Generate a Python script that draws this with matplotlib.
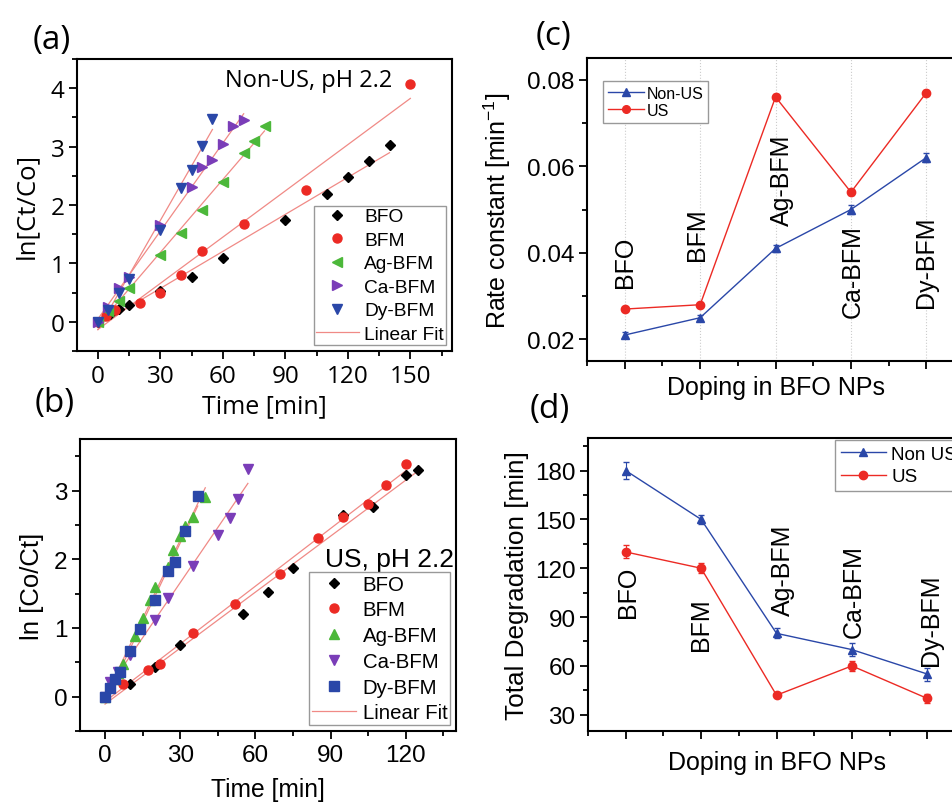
import matplotlib
matplotlib.use("Agg")
import matplotlib.pyplot as plt
from matplotlib.ticker import MultipleLocator
import numpy as np

plt.rcParams["font.family"] = ["Liberation Sans", "DejaVu Sans"]
plt.rcParams["mathtext.fontset"] = "custom"
plt.rcParams["mathtext.rm"] = "Liberation Sans"
plt.rcParams["mathtext.it"] = "Liberation Sans:italic"

# ---- (a) Non-US, pH 2.2 ----
a_bfo_t = [0, 6, 10, 15, 30, 45, 60, 90, 110, 120, 130, 140]
a_bfo_y = [0, 0.13, 0.22, 0.29, 0.53, 0.77, 1.10, 1.75, 2.19, 2.48, 2.76, 3.02]
a_bfm_t = [0, 4, 8, 20, 30, 40, 50, 70, 100, 150]
a_bfm_y = [0, 0.10, 0.20, 0.32, 0.49, 0.81, 1.21, 1.68, 2.25, 4.07]
a_ag_t = [0, 5, 10, 15, 30, 40, 50, 60, 70, 75, 80]
a_ag_y = [0, 0.19, 0.36, 0.58, 1.14, 1.52, 1.91, 2.40, 2.89, 3.09, 3.36]
a_ca_t = [0, 5, 10, 15, 30, 45, 50, 55, 60, 65, 70]
a_ca_y = [0, 0.26, 0.58, 0.77, 1.66, 2.31, 2.65, 2.77, 3.05, 3.35, 3.46]
a_dy_t = [0, 5, 10, 15, 30, 40, 45, 50, 55]
a_dy_y = [0, 0.20, 0.49, 0.73, 1.58, 2.29, 2.60, 3.01, 3.48]

# ---- (b) US, pH 2.2 ----
b_bfo_t = [0, 10, 20, 30, 55, 65, 75, 95, 107, 120, 125]
b_bfo_y = [0, 0.18, 0.43, 0.75, 1.20, 1.52, 1.88, 2.64, 2.76, 3.22, 3.30]
b_bfm_t = [0, 7, 17, 22, 35, 52, 70, 85, 95, 105, 112, 120]
b_bfm_y = [0, 0.18, 0.39, 0.47, 0.93, 1.35, 1.78, 2.31, 2.61, 2.81, 3.08, 3.39]
b_ag_t = [0, 2, 4, 5, 7, 12, 15, 18, 20, 25, 27, 30, 32, 35, 40]
b_ag_y = [0, 0.14, 0.26, 0.35, 0.47, 0.89, 1.14, 1.40, 1.60, 1.89, 2.13, 2.34, 2.48, 2.61, 2.91]
b_ca_t = [0, 2, 5, 10, 20, 25, 35, 45, 50, 53, 57]
b_ca_y = [0, 0.21, 0.36, 0.60, 1.11, 1.44, 1.90, 2.35, 2.60, 2.87, 3.32]
b_dy_t = [0, 2, 4, 6, 10, 14, 20, 25, 28, 32, 37]
b_dy_y = [0, 0.12, 0.25, 0.36, 0.67, 0.98, 1.40, 1.83, 1.96, 2.41, 2.92]

# ---- (c), (d) ----
dopants = ["BFO", "BFM", "Ag-BFM", "Ca-BFM", "Dy-BFM"]
k_nonus = [0.021, 0.025, 0.041, 0.050, 0.062]
k_nonus_err = [0.0006, 0.0006, 0.0008, 0.0010, 0.0010]
k_us = [0.027, 0.028, 0.076, 0.054, 0.077]
k_us_err = [0.0005, 0.0005, 0.0006, 0.0006, 0.0006]

deg_nonus = [180, 150, 80, 70, 55]
deg_nonus_err = [5, 3, 3, 4, 4]
deg_us = [130, 120, 42, 60, 40]
deg_us_err = [4, 3, 1, 3, 3]

# where the rotated dopant names sit (layout only)
c_label_dx = [0.0, -0.04, 0.09, 0.03, 0.0]
c_label_y = [0.032, 0.0383, 0.0464, 0.0252, 0.0275]
d_label_dx = [0.03, 0.0, 0.09, 0.03, 0.05]
d_label_y = [90, 69.5, 91, 77.7, 60.3]

RED = "#ec2a24"
GREEN = "#4cb83a"
PURPLE = "#7a3db8"
BLUE = "#2a47a8"
FIT = "#f08a86"
OS = ["Open Sans", "DejaVu Sans"]
TICK = 17.5

fig = plt.figure(figsize=(9.53, 8.03), dpi=100)


def style(ax, family=None):
    for s in ax.spines.values():
        s.set_linewidth(1.5)
    ax.tick_params(which="both", direction="out", width=1.3, top=False, right=False)
    ax.tick_params(which="major", length=6, labelsize=TICK, pad=3)
    ax.tick_params(which="minor", length=3.5)
    if family:
        for lab in ax.get_xticklabels() + ax.get_yticklabels():
            lab.set_family(family)


def kinetics(ax, series, fs, lspace):
    for t, y, mk, col, lab in series:
        ms = 5.5 if mk == "D" else 6.5
        ax.plot(t, y, mk, color=col, ms=ms, ls="none", label=lab, zorder=3)
    for t, y, mk, col, lab in series:
        t = np.array(t, float)
        p = np.polyfit(t, np.array(y, float), 1)
        tt = np.array([0, t.max()])
        ax.plot(tt, np.polyval(p, tt), color=FIT, lw=0.9, zorder=2,
                label="Linear Fit" if lab == series[-1][4] else None)
    ax.legend(loc="lower right", fontsize=fs, frameon=True, fancybox=False,
              edgecolor="#999999", framealpha=1, handlelength=2.2,
              borderaxespad=0.3, labelspacing=lspace, handletextpad=0.3,
              borderpad=0.12)


# (a)
ax_a = fig.add_axes([0.0808, 0.5616, 0.3935, 0.3636])
kinetics(ax_a, [
    (a_bfo_t, a_bfo_y, "D", "black", "BFO"),
    (a_bfm_t, a_bfm_y, "o", RED, "BFM"),
    (a_ag_t, a_ag_y, "<", GREEN, "Ag-BFM"),
    (a_ca_t, a_ca_y, ">", PURPLE, "Ca-BFM"),
    (a_dy_t, a_dy_y, "v", BLUE, "Dy-BFM"),
], 13.8, 0.32)
ax_a.set_xlim(-10, 170)
ax_a.set_ylim(-0.5, 4.5)
ax_a.xaxis.set_major_locator(MultipleLocator(30))
ax_a.xaxis.set_minor_locator(MultipleLocator(15))
ax_a.yaxis.set_major_locator(MultipleLocator(1))
ax_a.yaxis.set_minor_locator(MultipleLocator(0.5))
ax_a.set_xlabel("Time [min]", fontsize=18, family=OS, labelpad=4)
ax_a.set_ylabel("ln[Ct/Co]", fontsize=18.5, family=OS, labelpad=8)
ax_a.text(0.84, 0.93, "Non-US, pH 2.2", transform=ax_a.transAxes, ha="right",
          va="center", fontsize=17, family=OS)
style(ax_a, OS)

# (b)
ax_b = fig.add_axes([0.0839, 0.0884, 0.3945, 0.3636])
kinetics(ax_b, [
    (b_bfo_t, b_bfo_y, "D", "black", "BFO"),
    (b_bfm_t, b_bfm_y, "o", RED, "BFM"),
    (b_ag_t, b_ag_y, "^", GREEN, "Ag-BFM"),
    (b_ca_t, b_ca_y, "v", PURPLE, "Ca-BFM"),
    (b_dy_t, b_dy_y, "s", BLUE, "Dy-BFM"),
], 14.7, 0.33)
ax_b.set_xlim(-10, 140)
ax_b.set_ylim(-0.5, 3.75)
ax_b.xaxis.set_major_locator(MultipleLocator(30))
ax_b.xaxis.set_minor_locator(MultipleLocator(15))
ax_b.yaxis.set_major_locator(MultipleLocator(1))
ax_b.yaxis.set_minor_locator(MultipleLocator(0.5))
ax_b.set_xlabel("Time [min]", fontsize=17.7, labelpad=8)
ax_b.set_ylabel("ln [Co/Ct]", fontsize=18.5, labelpad=7)
ax_b.text(0.995, 0.59, "US, pH 2.2", transform=ax_b.transAxes, ha="right",
          va="center", fontsize=19)
style(ax_b)

# (c)
x = np.arange(len(dopants))
ax_c = fig.add_axes([0.616, 0.5492, 0.3956, 0.3773])
for xi in x:
    ax_c.axvline(xi, color="#cccccc", lw=0.8, ls=":", zorder=0)
ax_c.errorbar(x, k_nonus, yerr=k_nonus_err, color=BLUE, marker="^", ms=6,
              lw=1, capsize=2, elinewidth=0.8)
ax_c.errorbar(x, k_us, yerr=k_us_err, color=RED, marker="o", ms=6,
              lw=1, capsize=2, elinewidth=0.8)
h1, = ax_c.plot([], [], color=BLUE, marker="^", ms=5.5, lw=1, label="Non-US")
h2, = ax_c.plot([], [], color=RED, marker="o", ms=5.5, lw=1, label="US")
for xi, dx, yl, name in zip(x, c_label_dx, c_label_y, dopants):
    ax_c.text(xi + dx, yl, name, rotation=90, ha="center", va="bottom", fontsize=18)
ax_c.set_xlim(-0.5, 4.5)
ax_c.set_ylim(0.015, 0.085)
ax_c.set_xticks(x)
ax_c.set_xticklabels([])
ax_c.xaxis.set_minor_locator(MultipleLocator(0.5))
ax_c.yaxis.set_minor_locator(MultipleLocator(0.01))
ax_c.set_yticks([0.02, 0.04, 0.06, 0.08])
ax_c.set_yticklabels(["0.02", "0.04", "0.06", "0.08"])
ax_c.set_xlabel("Doping in BFO NPs", fontsize=18, labelpad=1)
ax_c.set_ylabel("Rate constant [min$^{-1}$]", fontsize=18, labelpad=10)
ax_c.legend(handles=[h1, h2], loc="upper left", bbox_to_anchor=(0.043, 0.925),
            fontsize=11.5, frameon=True, fancybox=False, edgecolor="#999999",
            framealpha=1, handlelength=2.25, borderaxespad=0, labelspacing=0.15,
            handletextpad=0.15, borderpad=0.3)
style(ax_c)

# (d)
ax_d = fig.add_axes([0.617, 0.0884, 0.3956, 0.3649])
ax_d.errorbar(x, deg_nonus, yerr=deg_nonus_err, color=BLUE, marker="^", ms=6,
              lw=1, capsize=2, elinewidth=0.8)
ax_d.errorbar(x, deg_us, yerr=deg_us_err, color=RED, marker="o", ms=6,
              lw=1, capsize=2, elinewidth=0.8)
g1, = ax_d.plot([], [], color=BLUE, marker="^", ms=6, lw=1, label="Non US")
g2, = ax_d.plot([], [], color=RED, marker="o", ms=6, lw=1, label="US")
for xi, dx, yl, name in zip(x, d_label_dx, d_label_y, dopants):
    ax_d.text(xi + dx, yl, name, rotation=90, ha="center", va="bottom", fontsize=18)
ax_d.set_xlim(-0.5, 4.5)
ax_d.set_ylim(20, 200)
ax_d.set_xticks(x)
ax_d.set_xticklabels([])
ax_d.xaxis.set_minor_locator(MultipleLocator(0.5))
ax_d.yaxis.set_major_locator(MultipleLocator(30))
ax_d.yaxis.set_minor_locator(MultipleLocator(15))
ax_d.set_xlabel("Doping in BFO NPs", fontsize=18, labelpad=5)
ax_d.set_ylabel("Total Degradation [min]", fontsize=18.8, labelpad=4)
ax_d.legend(handles=[g1, g2], loc="upper left", bbox_to_anchor=(0.655, 0.993),
            fontsize=13.5, frameon=True, fancybox=False, edgecolor="#999999",
            framealpha=1, handlelength=2.4, borderaxespad=0, labelspacing=0.28,
            handletextpad=0.3, borderpad=0.3)
style(ax_d)

# panel letters
for lab, px, py in [("(a)", 0.034, 0.95), ("(b)", 0.036, 0.497),
                    ("(c)", 0.562, 0.955), ("(d)", 0.556, 0.49)]:
    fig.text(px, py, lab, fontsize=24, family=OS, va="center")

fig.savefig("out.png", dpi=100)
